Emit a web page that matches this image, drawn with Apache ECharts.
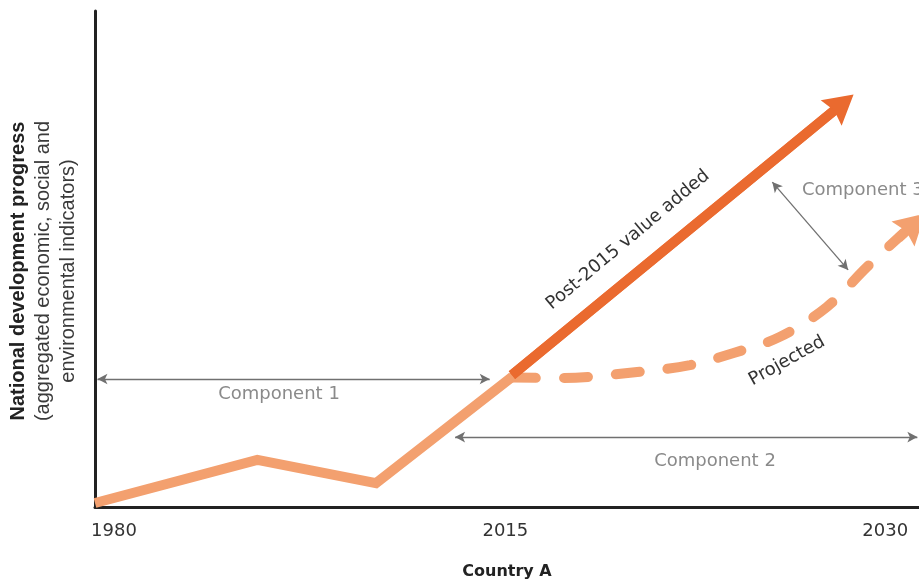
<!DOCTYPE html>
<html>
<head>
<meta charset="utf-8">
<script src="https://cdn.jsdelivr.net/npm/echarts@6/dist/echarts.min.js"></script>
<style>
  html, body { margin: 0; padding: 0; background: #fff; }
  #chart { width: 919px; height: 582px; }
</style>
</head>
<body>
<div id="chart"></div>
<script>
// Schematic axes: x = timeline index (0..100), y = progress index (0..100)
const tickValues = [2.3, 49.8, 95.9];
const tickLabels = ['1980', '2015', '2030'];

const historyX = [0, 19.7, 34.1, 50.6];
const historyY = [0.8, 9.5, 4.8, 26.2];

const valueAddedStart = [50.6, 26.6];
const valueAddedHead = [90.7, 81.3];

const projectedX = [50.6, 56.4, 65.8, 72.2, 77.4, 83.1, 88.8, 93.7, 98.1];
const projectedY = [26.1, 26.0, 27.2, 28.6, 31.0, 34.3, 40.3, 48.4, 55.2];
const projectedHeadStart = [97.5, 54.2];
const projectedHead = [99.4, 57.1];

const component1 = [[0.3, 25.8], [47.9, 25.8]];
const component2 = [[43.7, 14.1], [99.8, 14.1]];
const component3 = [[82.2, 65.5], [91.4, 47.8]];

const LIGHT = '#F3A06F';
const DARK = '#EA6A2F';
const GREY = '#707070';
const FONT = 'DejaVu Sans';
const HEAD = 'path://M50,0 L100,100 L50,86 L0,100 Z';

const chart = echarts.init(document.getElementById('chart'), null, { renderer: 'canvas' });

function arrowPair(pts) {
  return [
    { coord: pts[0], symbol: 'arrow', symbolSize: [8, 10] },
    { coord: pts[1], symbol: 'arrow', symbolSize: [8, 10] }
  ];
}

chart.setOption({
  animation: false,
  grid: { left: 95, right: 0, top: 11, bottom: 75, containLabel: false, outerBoundsMode: 'none' },
  xAxis: {
    type: 'value', min: 0, max: 100,
    name: 'Country A', nameLocation: 'middle', nameGap: 57,
    nameTextStyle: { fontFamily: FONT, fontWeight: 'bold', fontSize: 16, color: '#222' },
    axisLine: { show: true, lineStyle: { color: '#222', width: 3 } },
    axisTick: { show: false },
    splitLine: { show: false },
    axisLabel: {
      customValues: tickValues,
      formatter: v => tickLabels[tickValues.indexOf(v)] || '',
      fontFamily: FONT, fontSize: 18, color: '#333', margin: 15
    }
  },
  yAxis: {
    type: 'value', min: 0, max: 100,
    name: '{b|National development progress}\n{n|(aggregated economic, social and}\n{n|environmental indicators)}',
    nameLocation: 'middle', nameRotate: 90, nameGap: 14,
    nameTextStyle: {
      padding: [0, 24, 0, 0],
      rich: {
        b: { fontFamily: 'Liberation Sans', fontWeight: 'bold', fontSize: 20, color: '#222', lineHeight: 25 },
        n: { fontFamily: 'Liberation Sans', fontSize: 20, color: '#3a3a3a', lineHeight: 25 }
      }
    },
    axisLine: { show: true, lineStyle: { color: '#222', width: 3 } },
    axisTick: { show: false },
    axisLabel: { show: false },
    splitLine: { show: false }
  },
  series: [
    {
      name: 'Projected', type: 'line', silent: true,
      data: projectedX.map((x, i) => [x, projectedY[i]]),
      smooth: 0.35, showSymbol: false, symbol: 'none',
      lineStyle: { color: LIGHT, width: 10, type: [24, 28], cap: 'round' },
      markLine: {
        silent: true, animation: false,
        label: { show: false },
        lineStyle: { color: LIGHT, width: 10, type: 'solid' },
        data: [[
          { coord: projectedHeadStart, symbol: 'none' },
          { coord: projectedHead, symbol: HEAD, symbolSize: [34, 30] }
        ]]
      }
    },
    {
      name: 'Post-2015 value added', type: 'line', silent: true,
      data: [valueAddedStart, valueAddedHead],
      showSymbol: false, symbol: 'none',
      lineStyle: { color: DARK, width: 10 },
      markLine: {
        silent: true, animation: false,
        label: { show: false },
        lineStyle: { color: DARK, width: 10, type: 'solid' },
        data: [[
          { coord: valueAddedStart, symbol: 'none' },
          { coord: valueAddedHead, symbol: HEAD, symbolSize: [33, 29] }
        ]]
      }
    },
    {
      name: 'History', type: 'line', silent: true,
      data: historyX.map((x, i) => [x, historyY[i]]),
      showSymbol: false, symbol: 'none',
      lineStyle: { color: LIGHT, width: 10, join: 'miter' },
      markLine: {
        silent: true, animation: false,
        label: { show: false },
        lineStyle: { color: GREY, width: 1.3, type: 'solid' },
        data: [arrowPair(component1), arrowPair(component2), arrowPair(component3)]
      }
    }
  ],
  graphic: [
    { type: 'text', x: 279, y: 394, style: { text: 'Component 1', font: '18px "DejaVu Sans"', fill: '#8a8a8a', align: 'center', verticalAlign: 'middle' } },
    { type: 'text', x: 715, y: 461, style: { text: 'Component 2', font: '18px "DejaVu Sans"', fill: '#8a8a8a', align: 'center', verticalAlign: 'middle' } },
    { type: 'text', x: 802, y: 190, style: { text: 'Component 3', font: '18px "DejaVu Sans"', fill: '#8a8a8a', align: 'left', verticalAlign: 'middle' } },
    { type: 'text', x: 628, y: 240, rotation: 40 * Math.PI / 180, style: { text: 'Post-2015 value added', font: '18px "DejaVu Sans"', fill: '#333', align: 'center', verticalAlign: 'middle' } },
    { type: 'text', x: 787, y: 361, rotation: 29 * Math.PI / 180, style: { text: 'Projected', font: '18px "DejaVu Sans"', fill: '#333', align: 'center', verticalAlign: 'middle' } }
  ]
});
</script>
</body>
</html>
